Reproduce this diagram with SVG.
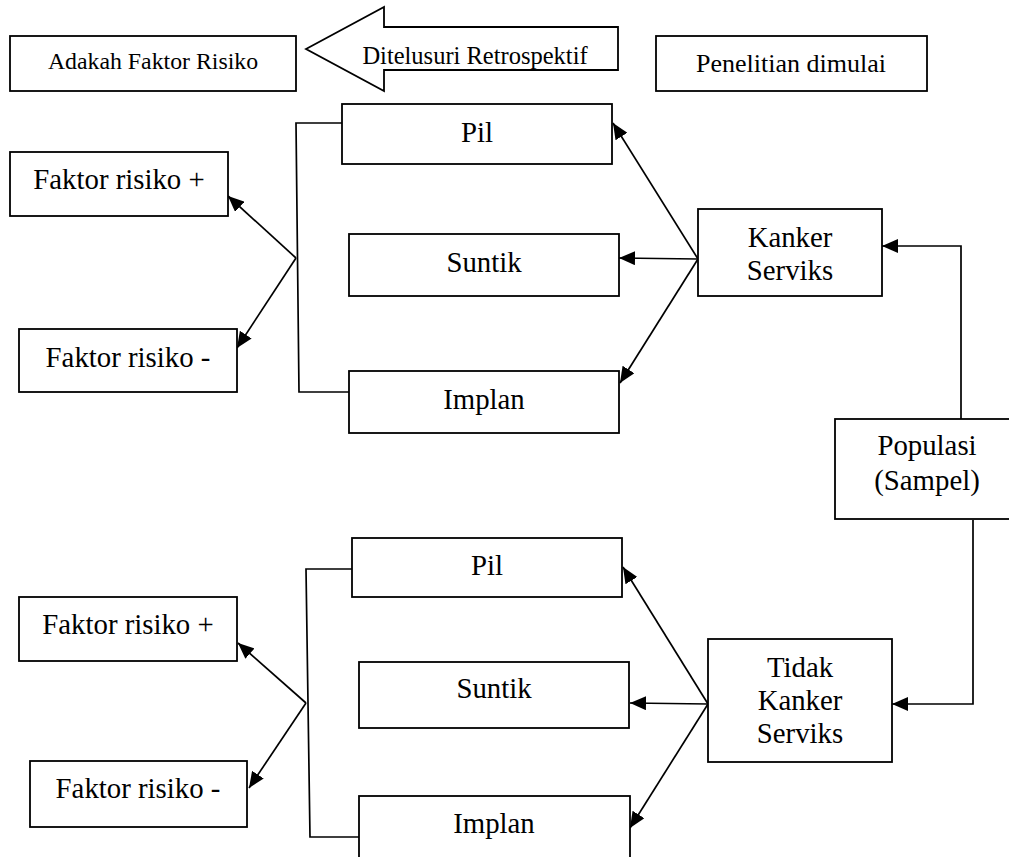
<svg xmlns="http://www.w3.org/2000/svg" width="1009" height="857" viewBox="0 0 1009 857">
<style>
.box{fill:#fff;stroke:#000;stroke-width:1.8}
.t{font-family:'Liberation Serif','Times New Roman',serif;fill:#000;text-anchor:middle;font-size:28.8px}
.c{fill:none;stroke:#000;stroke-width:1.7}
.a{marker-end:url(#ah)}
</style>
<defs>
<marker id="ah" markerUnits="userSpaceOnUse" markerWidth="17" markerHeight="14" refX="16" refY="7" orient="auto">
<path d="M0,0 L16,7 L0,14 Z" fill="#000"/>
</marker>
</defs>
<rect width="1009" height="857" fill="#fff"/>

<g id="connectors">
<path class="c" d="M342,123 H296 L299,392 H349"/>
<line class="c a" x1="296" y1="258" x2="228" y2="196"/>
<line class="c a" x1="296" y1="258" x2="237" y2="348"/>
<line class="c a" x1="698" y1="259" x2="613" y2="123"/>
<line class="c a" x1="698" y1="259" x2="619" y2="258"/>
<line class="c a" x1="698" y1="259" x2="620" y2="383"/>
<path class="c a" d="M961,419 V246 H882"/>
<path class="c a" d="M973,520 V704 H892"/>
<path class="c" d="M352,569 H306 L310,837 H360"/>
<line class="c a" x1="306" y1="703" x2="238" y2="643"/>
<line class="c a" x1="306" y1="703" x2="249" y2="788"/>
<line class="c a" x1="708" y1="704" x2="623" y2="567"/>
<line class="c a" x1="708" y1="704" x2="630" y2="703"/>
<line class="c a" x1="708" y1="704" x2="630" y2="828"/>
</g>

<g id="adakah">
<rect class="box" x="10" y="36" width="286" height="55"/>
<text class="t" x="153" y="69" style="font-size:23.8px">Adakah Faktor Risiko</text>
</g>
<g id="ditelusuri">
<polygon class="box" points="306,49 384,7 384,27 618,27 618,70 384,70 384,91"/>
<text class="t" x="475" y="64" style="font-size:24.5px">Ditelusuri Retrospektif</text>
</g>
<g id="penelitian">
<rect class="box" x="656" y="36" width="271" height="55"/>
<text class="t" x="791" y="72" style="font-size:26px">Penelitian dimulai</text>
</g>

<g id="pil1"><rect class="box" x="342" y="104" width="270" height="60"/><text class="t" x="477" y="142">Pil</text></g>
<g id="suntik1"><rect class="box" x="349" y="234" width="270" height="62"/><text class="t" x="484" y="272">Suntik</text></g>
<g id="implan1"><rect class="box" x="349" y="371" width="270" height="62"/><text class="t" x="484" y="409">Implan</text></g>
<g id="fplus1"><rect class="box" x="10" y="152" width="218" height="64"/><text class="t" x="119" y="189">Faktor risiko +</text></g>
<g id="fmin1"><rect class="box" x="19" y="329" width="218" height="63"/><text class="t" x="128" y="367">Faktor risiko -</text></g>
<g id="kanker"><rect class="box" x="698" y="209" width="184" height="87"/><text class="t" x="790" y="247">Kanker</text><text class="t" x="790" y="280">Serviks</text></g>
<g id="populasi"><rect class="box" x="835" y="419" width="184" height="100"/><text class="t" x="927" y="455">Populasi</text><text class="t" x="927" y="490">(Sampel)</text></g>
<g id="tidak"><rect class="box" x="708" y="639" width="184" height="123"/><text class="t" x="800" y="677">Tidak</text><text class="t" x="800" y="710">Kanker</text><text class="t" x="800" y="743">Serviks</text></g>

<g id="pil2"><rect class="box" x="352" y="538" width="270" height="59"/><text class="t" x="487" y="575">Pil</text></g>
<g id="suntik2"><rect class="box" x="359" y="662" width="270" height="66"/><text class="t" x="494" y="698">Suntik</text></g>
<g id="implan2"><rect class="box" x="359" y="796" width="271" height="70"/><text class="t" x="494" y="833">Implan</text></g>
<g id="fplus2"><rect class="box" x="19" y="597" width="218" height="64"/><text class="t" x="128" y="634">Faktor risiko +</text></g>
<g id="fmin2"><rect class="box" x="30" y="761" width="217" height="66"/><text class="t" x="138" y="798">Faktor risiko -</text></g>
</svg>
